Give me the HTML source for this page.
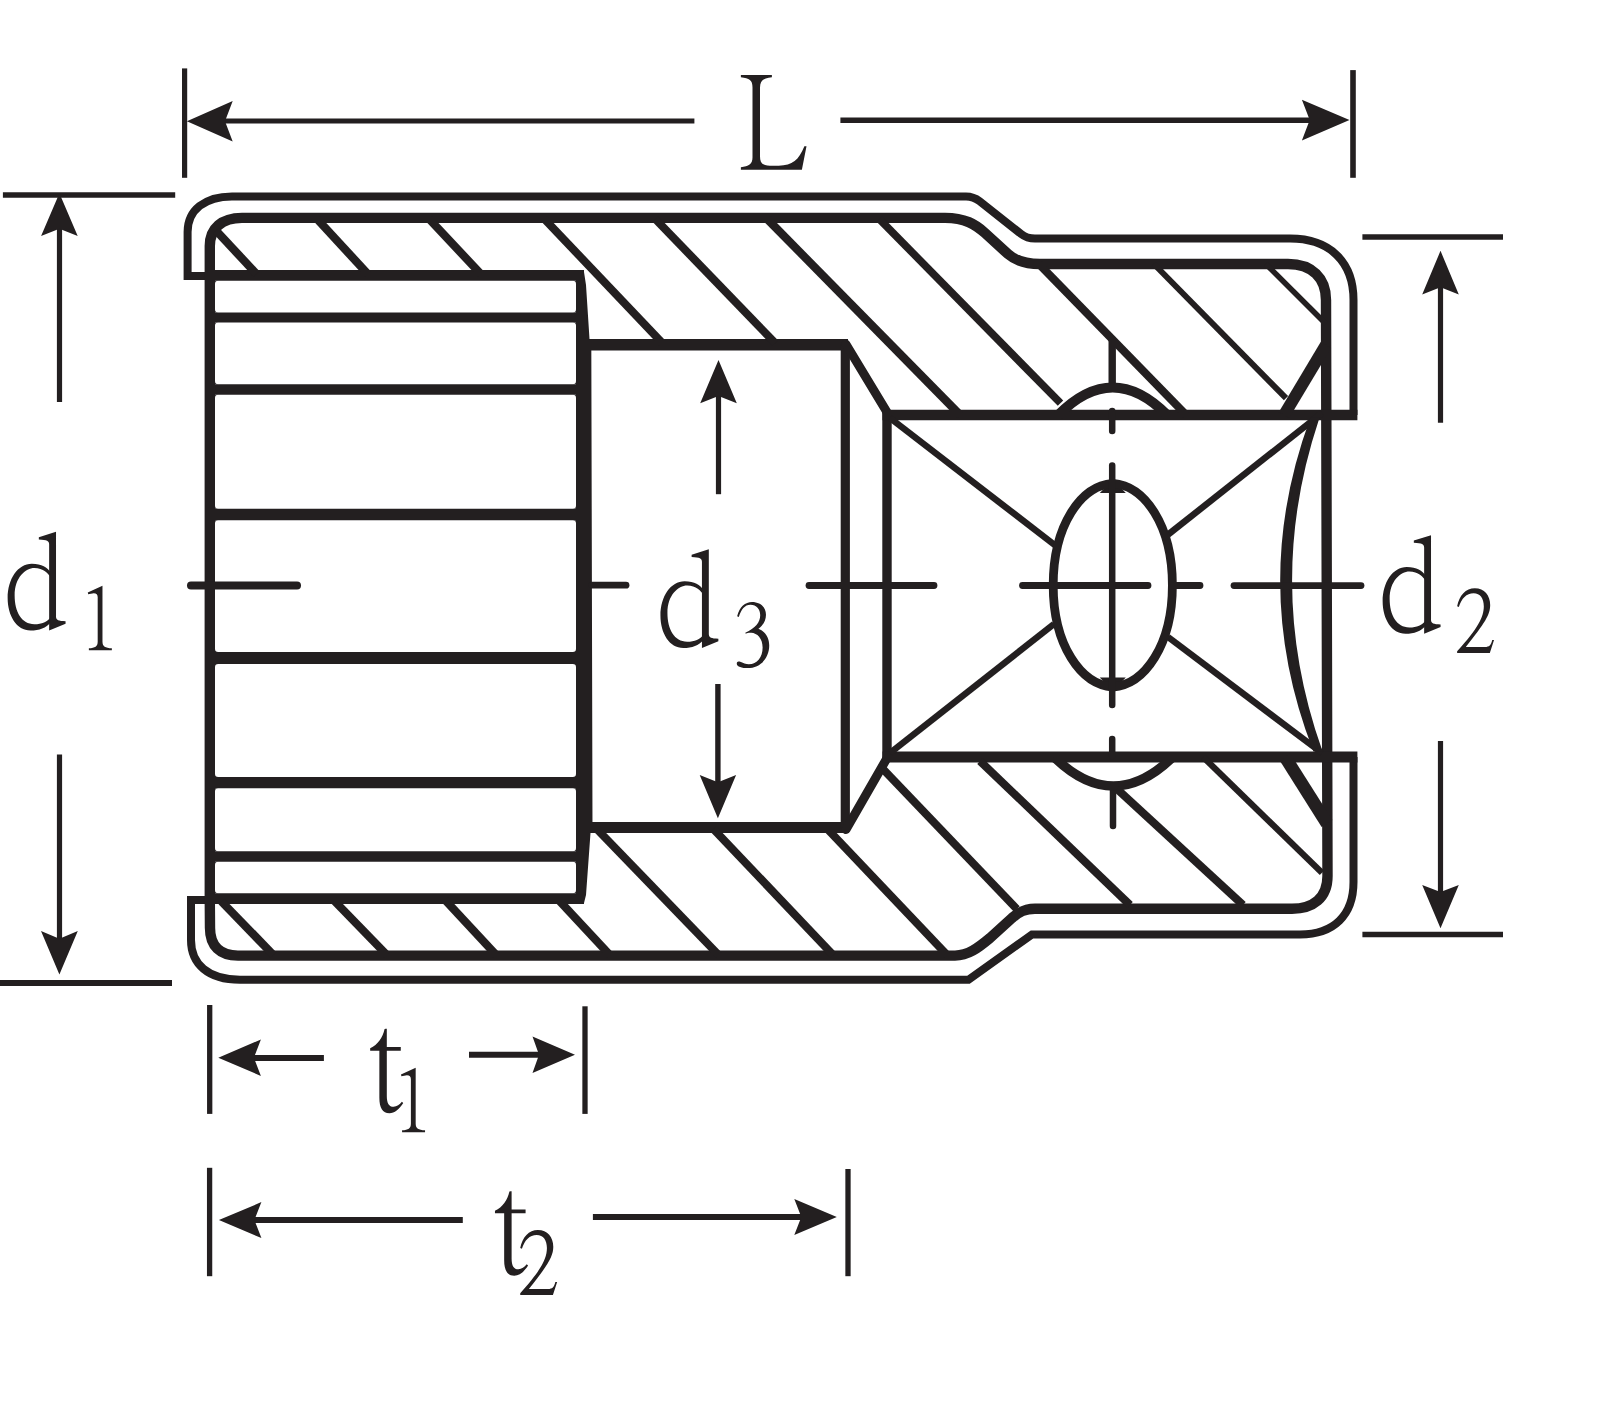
<!DOCTYPE html>
<html><head><meta charset="utf-8"><title>Socket dimensions</title>
<style>
html,body{margin:0;padding:0;background:#fff;}
body{width:1600px;height:1414px;overflow:hidden;font-family:"Liberation Serif",serif;}
svg{display:block;}
svg text{font-family:"Liberation Serif",serif;}
</style></head>
<body>
<svg width="1600" height="1414" viewBox="0 0 1600 1414" stroke="#231f20" fill="none">
<rect x="0" y="0" width="1600" height="1414" fill="#ffffff" stroke="none"/>
<line x1="184.6" y1="68.4" x2="184.6" y2="177.8" stroke-width="5.2" stroke-linecap="butt"/>
<line x1="1353" y1="70.1" x2="1353" y2="177.8" stroke-width="5.6" stroke-linecap="butt"/>
<line x1="224" y1="121" x2="694.4" y2="121" stroke-width="5.2" stroke-linecap="butt"/>
<line x1="840.4" y1="120.2" x2="1310" y2="120.2" stroke-width="5.4" stroke-linecap="butt"/>
<polygon stroke="none" fill="#231f20" points="186.9,121.2 232.7,100.9 225.0,121.2 232.7,141.5"/>
<polygon stroke="none" fill="#231f20" points="1349.5,120.1 1301.9,99.8 1309.7,120.1 1301.9,140.4"/>
<line x1="2.9" y1="194.9" x2="175.2" y2="194.9" stroke-width="5.5" stroke-linecap="butt"/>
<line x1="0" y1="983" x2="172" y2="983" stroke-width="5.8" stroke-linecap="butt"/>
<line x1="59.5" y1="228" x2="59.5" y2="402" stroke-width="5.2" stroke-linecap="butt"/>
<polygon stroke="none" fill="#231f20" points="59.4,193.2 41.099999999999994,236.0 59.4,228.8 77.7,236.0"/>
<line x1="59.5" y1="754.5" x2="59.5" y2="945" stroke-width="5.2" stroke-linecap="butt"/>
<polygon stroke="none" fill="#231f20" points="59.4,974.5 41.0,931.1 59.4,938.7 77.8,931.1"/>
<line x1="1362.4" y1="237" x2="1503" y2="237" stroke-width="5.7" stroke-linecap="butt"/>
<line x1="1362.4" y1="934.5" x2="1503" y2="934.5" stroke-width="5.7" stroke-linecap="butt"/>
<line x1="1440.5" y1="285" x2="1440.5" y2="422.8" stroke-width="5.2" stroke-linecap="butt"/>
<polygon stroke="none" fill="#231f20" points="1440.5,250.8 1422.2,294.40000000000003 1440.5,287.20000000000005 1458.8,294.40000000000003"/>
<line x1="1440.5" y1="741" x2="1440.5" y2="895" stroke-width="5.2" stroke-linecap="butt"/>
<polygon stroke="none" fill="#231f20" points="1440.5,928.3 1422.2,884.9 1440.5,892.1 1458.8,884.9"/>
<line x1="718.5" y1="394" x2="718.5" y2="494.2" stroke-width="5.2" stroke-linecap="butt"/>
<polygon stroke="none" fill="#231f20" points="718.5,360.1 700.2,403.20000000000005 718.5,396.00000000000006 736.8,403.20000000000005"/>
<line x1="717.9" y1="684" x2="717.9" y2="785" stroke-width="5.4" stroke-linecap="butt"/>
<polygon stroke="none" fill="#231f20" points="717.9,818.3 699.6999999999999,775.0999999999999 717.9,782.1999999999999 736.1,775.0999999999999"/>
<line x1="209.7" y1="1005" x2="209.7" y2="1113.9" stroke-width="5.3" stroke-linecap="butt"/>
<line x1="585" y1="1006.3" x2="585" y2="1113.9" stroke-width="5.3" stroke-linecap="butt"/>
<line x1="252" y1="1057.9" x2="323.9" y2="1057.9" stroke-width="6" stroke-linecap="butt"/>
<polygon stroke="none" fill="#231f20" points="218.3,1057.7 260.90000000000003,1039.5 253.90000000000003,1057.7 260.90000000000003,1075.9"/>
<line x1="469" y1="1054.8" x2="541" y2="1054.8" stroke-width="6" stroke-linecap="butt"/>
<polygon stroke="none" fill="#231f20" points="575,1054.8 532.5,1036.6 539.0,1054.8 532.5,1073.0"/>
<line x1="209.6" y1="1167.8" x2="209.6" y2="1276.2" stroke-width="5.3" stroke-linecap="butt"/>
<line x1="848" y1="1169" x2="848" y2="1276.2" stroke-width="5.3" stroke-linecap="butt"/>
<line x1="252" y1="1220.1" x2="462.8" y2="1220.1" stroke-width="6" stroke-linecap="butt"/>
<polygon stroke="none" fill="#231f20" points="218.9,1220.1 261.4,1202.1 254.39999999999998,1220.1 261.4,1238.1"/>
<line x1="592.9" y1="1217.1" x2="803" y2="1217.1" stroke-width="6" stroke-linecap="butt"/>
<polygon stroke="none" fill="#231f20" points="836.8,1217.1 794.3,1199.1 801.3,1217.1 794.3,1235.1"/>
<path d="M 487 200 L 735 200 L 735 218 C 670 225 642 240 640 300 L 640 850 C 640 905 660 925 720 925 L 790 925 C 900 925 950 880 995 770 L 1012 770 L 975 958 L 487 958 L 487 938 C 550 930 580 915 580 860 L 580 300 C 580 240 555 225 487 218 Z" transform="translate(680.00,50.00) scale(0.12500)" fill="#231f20" stroke="none" fill-rule="evenodd"/>
<path d="M 440 250 L 440 915 C 440 945 460 950 515 952 L 515 972 L 386 1025 L 386 350 C 386 322 370 312 305 310 L 305 292 Z" transform="translate(0.00,500.00) scale(0.12731)" fill="#231f20" stroke="none" fill-rule="evenodd"/>
<path d="M 250 500 C 330 500 370 530 400 570 L 400 960 C 360 1005 310 1025 240 1025 C 130 1025 60 910 60 770 C 60 620 140 500 250 500 Z M 270 535 C 200 535 115 610 115 750 C 115 880 170 975 270 975 C 330 975 370 955 400 920 L 400 610 C 380 580 340 535 270 535 Z" transform="translate(0.00,500.00) scale(0.12731)" fill="#231f20" stroke="none" fill-rule="evenodd"/>
<path d="M 440 250 L 440 915 C 440 945 460 950 515 952 L 515 972 L 386 1025 L 386 350 C 386 322 370 312 305 310 L 305 292 Z" transform="translate(652.80,517.50) scale(0.12731)" fill="#231f20" stroke="none" fill-rule="evenodd"/>
<path d="M 250 500 C 330 500 370 530 400 570 L 400 960 C 360 1005 310 1025 240 1025 C 130 1025 60 910 60 770 C 60 620 140 500 250 500 Z M 270 535 C 200 535 115 610 115 750 C 115 880 170 975 270 975 C 330 975 370 955 400 920 L 400 610 C 380 580 340 535 270 535 Z" transform="translate(652.80,517.50) scale(0.12731)" fill="#231f20" stroke="none" fill-rule="evenodd"/>
<path d="M 440 250 L 440 915 C 440 945 460 950 515 952 L 515 972 L 386 1025 L 386 350 C 386 322 370 312 305 310 L 305 292 Z" transform="translate(1375.00,503.30) scale(0.12731)" fill="#231f20" stroke="none" fill-rule="evenodd"/>
<path d="M 250 500 C 330 500 370 530 400 570 L 400 960 C 360 1005 310 1025 240 1025 C 130 1025 60 910 60 770 C 60 620 140 500 250 500 Z M 270 535 C 200 535 115 610 115 750 C 115 880 170 975 270 975 C 330 975 370 955 400 920 L 400 610 C 380 580 340 535 270 535 Z" transform="translate(1375.00,503.30) scale(0.12731)" fill="#231f20" stroke="none" fill-rule="evenodd"/>
<path d="M 660 575 L 660 1180 C 660 1235 690 1250 762 1255 L 762 1275 L 512 1275 L 512 1255 C 580 1250 608 1235 608 1180 L 608 700 C 608 668 595 655 565 655 L 505 665 L 500 648 Z" transform="translate(355.00,1015.00) scale(0.09193)" fill="#231f20" stroke="none" fill-rule="evenodd"/>
<path d="M 660 575 L 660 1180 C 660 1235 690 1250 762 1255 L 762 1275 L 512 1275 L 512 1255 C 580 1250 608 1235 608 1180 L 608 700 C 608 668 595 655 565 655 L 505 665 L 500 648 Z" transform="translate(41.80,533.00) scale(0.09193)" fill="#231f20" stroke="none" fill-rule="evenodd"/>
<path d="M 335 150 L 346 150 L 346 348 L 498 348 L 498 390 L 346 390 L 346 880 C 346 960 370 998 420 998 C 455 998 485 975 510 945 L 525 958 C 480 1030 430 1068 375 1068 C 300 1068 265 1010 265 900 L 265 390 L 165 390 L 165 362 C 250 320 300 250 322 152 Z" transform="translate(355.00,1015.00) scale(0.09193)" fill="#231f20" stroke="none" fill-rule="evenodd"/>
<path d="M 335 150 L 346 150 L 346 348 L 498 348 L 498 390 L 346 390 L 346 880 C 346 960 370 998 420 998 C 455 998 485 975 510 945 L 525 958 C 480 1030 430 1068 375 1068 C 300 1068 265 1010 265 900 L 265 390 L 165 390 L 165 362 C 250 320 300 250 322 152 Z" transform="translate(479.80,1177.50) scale(0.09193)" fill="#231f20" stroke="none" fill-rule="evenodd"/>
<path d="M 808 800 C 825 710 880 650 955 650 C 1035 650 1083 710 1083 790 C 1083 870 1040 940 880 1140 L 1040 1140 C 1075 1140 1090 1125 1100 1082 L 1115 1082 L 1080 1190 L 808 1190 L 808 1176 C 980 985 1030 890 1030 800 C 1030 735 1000 692 945 692 C 885 692 845 735 822 806 Z" transform="translate(1360.00,510.00) scale(0.12021)" fill="#231f20" stroke="none" fill-rule="evenodd"/>
<path d="M 808 800 C 825 710 880 650 955 650 C 1035 650 1083 710 1083 790 C 1083 870 1040 940 880 1140 L 1040 1140 C 1075 1140 1090 1125 1100 1082 L 1115 1082 L 1080 1190 L 808 1190 L 808 1176 C 980 985 1030 890 1030 800 C 1030 735 1000 692 945 692 C 885 692 845 735 822 806 Z" transform="translate(423.10,1151.85) scale(0.12021)" fill="#231f20" stroke="none" fill-rule="evenodd"/>
<path d="M 808 800 C 828 722 875 682 932 682 C 1000 682 1048 725 1048 788 C 1048 840 1020 880 985 905 C 1045 930 1075 980 1075 1045 C 1075 1150 1000 1232 895 1232 C 850 1232 805 1220 805 1195 C 805 1180 815 1173 828 1178 C 860 1192 880 1200 905 1200 C 975 1200 1020 1140 1020 1060 C 1020 985 975 940 925 938 C 905 937 892 940 880 946 L 876 938 C 960 900 1000 850 1000 792 C 1000 740 968 705 920 705 C 870 705 842 745 822 806 Z" transform="translate(640.00,520.00) scale(0.12021)" fill="#231f20" stroke="none" fill-rule="evenodd"/>
<path d="M 205 276 L 187.6 276 L 187.6 232 C 187.6 210 205 196.4 232 196.4 L 966 196.4 Q 973.5 196.4 979.5 201.1 L 1021 233.9 Q 1027 238.6 1035 238.6 L 1290 238.6 C 1330 238.6 1353.5 262 1353.5 300 L 1353.5 415" stroke-width="8" fill="none" stroke-linecap="butt" stroke-linejoin="miter"/>
<path d="M 207 900 L 191 900 L 191 940 C 191 964 208 979.7 240 979.7 L 968.5 979.7 L 1032 934.4 L 1300 934.4 C 1334 934.4 1353.5 915 1353.5 882 L 1353.5 757" stroke-width="8" fill="none" stroke-linecap="butt" stroke-linejoin="miter"/>
<path d="M 209.8 900 L 209.8 246 C 209.8 228 222 217.9 242 217.9 L 945 217.9 C 965 218 975 224 985 233 L 1008 254 C 1016 261 1025 264 1040 264 L 1288 264 C 1312 264 1326 278 1326 300 L 1327.5 876 C 1327.5 898 1313 908.7 1292 908.7 L 1035 908.7 C 1025 908.7 1019 912 1012 918 L 990 938 C 978 948 968 955.6 955 955.6 L 238 955.6 C 220 955.6 210 946 210 928 Z" stroke-width="10.4" fill="none" stroke-linecap="butt" stroke-linejoin="round"/>
<line x1="210" y1="275.4" x2="584" y2="275.4" stroke-width="10.6" stroke-linecap="butt"/>
<line x1="210" y1="317.4" x2="584" y2="317.4" stroke-width="10" stroke-linecap="butt"/>
<line x1="210" y1="389.5" x2="584" y2="389.5" stroke-width="10.6" stroke-linecap="butt"/>
<line x1="210" y1="514.4" x2="584" y2="514.4" stroke-width="11.5" stroke-linecap="butt"/>
<line x1="210" y1="658" x2="584" y2="658" stroke-width="12" stroke-linecap="butt"/>
<line x1="210" y1="782.6" x2="584" y2="782.6" stroke-width="11.3" stroke-linecap="butt"/>
<line x1="210" y1="856.5" x2="584" y2="856.5" stroke-width="10.4" stroke-linecap="butt"/>
<line x1="210" y1="898.6" x2="584" y2="898.6" stroke-width="10.6" stroke-linecap="butt"/>
<polygon stroke="none" fill="#231f20" points="576,272 584,272 586,285 589.5,339 591.3,339 592.5,833 590.5,833 586,895 584,903 576,903"/>
<path d="M 215.0 280.7 L 218.2 280.7 A 3.2 3.2 0 0 0 215.0 283.9 Z" fill="#231f20" stroke="none"/>
<path d="M 215.0 312.4 L 218.2 312.4 A 3.2 3.2 0 0 1 215.0 309.2 Z" fill="#231f20" stroke="none"/>
<path d="M 576.0 280.7 L 572.8 280.7 A 3.2 3.2 0 0 1 576.0 283.9 Z" fill="#231f20" stroke="none"/>
<path d="M 576.0 312.4 L 572.8 312.4 A 3.2 3.2 0 0 0 576.0 309.2 Z" fill="#231f20" stroke="none"/>
<path d="M 215.0 322.4 L 218.2 322.4 A 3.2 3.2 0 0 0 215.0 325.59999999999997 Z" fill="#231f20" stroke="none"/>
<path d="M 215.0 384.2 L 218.2 384.2 A 3.2 3.2 0 0 1 215.0 381.0 Z" fill="#231f20" stroke="none"/>
<path d="M 576.0 322.4 L 572.8 322.4 A 3.2 3.2 0 0 1 576.0 325.59999999999997 Z" fill="#231f20" stroke="none"/>
<path d="M 576.0 384.2 L 572.8 384.2 A 3.2 3.2 0 0 0 576.0 381.0 Z" fill="#231f20" stroke="none"/>
<path d="M 215.0 394.8 L 218.2 394.8 A 3.2 3.2 0 0 0 215.0 398.0 Z" fill="#231f20" stroke="none"/>
<path d="M 215.0 508.65 L 218.2 508.65 A 3.2 3.2 0 0 1 215.0 505.45 Z" fill="#231f20" stroke="none"/>
<path d="M 576.0 394.8 L 572.8 394.8 A 3.2 3.2 0 0 1 576.0 398.0 Z" fill="#231f20" stroke="none"/>
<path d="M 576.0 508.65 L 572.8 508.65 A 3.2 3.2 0 0 0 576.0 505.45 Z" fill="#231f20" stroke="none"/>
<path d="M 215.0 520.15 L 218.2 520.15 A 3.2 3.2 0 0 0 215.0 523.35 Z" fill="#231f20" stroke="none"/>
<path d="M 215.0 652.0 L 218.2 652.0 A 3.2 3.2 0 0 1 215.0 648.8 Z" fill="#231f20" stroke="none"/>
<path d="M 576.0 520.15 L 572.8 520.15 A 3.2 3.2 0 0 1 576.0 523.35 Z" fill="#231f20" stroke="none"/>
<path d="M 576.0 652.0 L 572.8 652.0 A 3.2 3.2 0 0 0 576.0 648.8 Z" fill="#231f20" stroke="none"/>
<path d="M 215.0 664.0 L 218.2 664.0 A 3.2 3.2 0 0 0 215.0 667.2 Z" fill="#231f20" stroke="none"/>
<path d="M 215.0 776.95 L 218.2 776.95 A 3.2 3.2 0 0 1 215.0 773.75 Z" fill="#231f20" stroke="none"/>
<path d="M 576.0 664.0 L 572.8 664.0 A 3.2 3.2 0 0 1 576.0 667.2 Z" fill="#231f20" stroke="none"/>
<path d="M 576.0 776.95 L 572.8 776.95 A 3.2 3.2 0 0 0 576.0 773.75 Z" fill="#231f20" stroke="none"/>
<path d="M 215.0 788.25 L 218.2 788.25 A 3.2 3.2 0 0 0 215.0 791.45 Z" fill="#231f20" stroke="none"/>
<path d="M 215.0 851.3 L 218.2 851.3 A 3.2 3.2 0 0 1 215.0 848.0999999999999 Z" fill="#231f20" stroke="none"/>
<path d="M 576.0 788.25 L 572.8 788.25 A 3.2 3.2 0 0 1 576.0 791.45 Z" fill="#231f20" stroke="none"/>
<path d="M 576.0 851.3 L 572.8 851.3 A 3.2 3.2 0 0 0 576.0 848.0999999999999 Z" fill="#231f20" stroke="none"/>
<path d="M 215.0 861.7 L 218.2 861.7 A 3.2 3.2 0 0 0 215.0 864.9000000000001 Z" fill="#231f20" stroke="none"/>
<path d="M 215.0 893.3000000000001 L 218.2 893.3000000000001 A 3.2 3.2 0 0 1 215.0 890.1 Z" fill="#231f20" stroke="none"/>
<path d="M 576.0 861.7 L 572.8 861.7 A 3.2 3.2 0 0 1 576.0 864.9000000000001 Z" fill="#231f20" stroke="none"/>
<path d="M 576.0 893.3000000000001 L 572.8 893.3000000000001 A 3.2 3.2 0 0 0 576.0 890.1 Z" fill="#231f20" stroke="none"/>
<line x1="590" y1="344.8" x2="848" y2="344.8" stroke-width="11.4" stroke-linecap="butt"/>
<line x1="590" y1="827.5" x2="848" y2="827.5" stroke-width="11" stroke-linecap="butt"/>
<line x1="845.3" y1="344" x2="845.3" y2="829" stroke-width="9.2" stroke-linecap="butt"/>
<line x1="845.8" y1="344" x2="887.8" y2="413.5" stroke-width="9" stroke-linecap="round"/>
<line x1="846" y1="829.5" x2="886.5" y2="759" stroke-width="9" stroke-linecap="round"/>
<line x1="887" y1="410" x2="887" y2="762" stroke-width="9.4" stroke-linecap="butt"/>
<line x1="882.5" y1="415" x2="1357.4" y2="415" stroke-width="10.4" stroke-linecap="butt"/>
<line x1="882.5" y1="757" x2="1357.4" y2="757" stroke-width="11" stroke-linecap="butt"/>
<line x1="890" y1="418" x2="1056" y2="546" stroke-width="6.5" stroke-linecap="butt"/>
<line x1="890" y1="753" x2="1054" y2="624" stroke-width="6.5" stroke-linecap="butt"/>
<line x1="1168" y1="534.6" x2="1322" y2="413" stroke-width="6.5" stroke-linecap="butt"/>
<line x1="1168" y1="637" x2="1322" y2="753" stroke-width="6.5" stroke-linecap="butt"/>
<polygon stroke="none" fill="#231f20" points="1099.8,492.9 1112.8,479.4 1125.8,492.9"/>
<polygon stroke="none" fill="#231f20" points="1099.8,677.5 1112.8,691.0 1125.8,677.5"/>
<path d="M 1112.8 483.4 C 1144.8 485.9 1172.3999999999999 525.2 1172.3999999999999 585.2 C 1172.3999999999999 645.2 1144.8 684.5 1112.8 687.0 C 1080.8 684.5 1053.2 645.2 1053.2 585.2 C 1053.2 525.2 1080.8 485.9 1112.8 483.4 Z" stroke-width="8.8" fill="none" stroke-linejoin="miter" stroke-miterlimit="10"/>
<path d="M 1311.5 419 Q 1250.4 585 1314.5 750 L 1320.5 750 Q 1262.2 585 1317.5 419 Z" fill="#231f20" stroke-width="3"/>
<line x1="1284" y1="415" x2="1326" y2="344.8" stroke-width="12" stroke-linecap="butt"/>
<line x1="1285" y1="757" x2="1327" y2="823.5" stroke-width="12.7" stroke-linecap="butt"/>
<line x1="191" y1="585.4" x2="297" y2="585.4" stroke-width="8" stroke-linecap="round"/>
<line x1="592" y1="585.2" x2="626" y2="585.2" stroke-width="6.8" stroke-linecap="round"/>
<line x1="809" y1="585.5" x2="934" y2="585.5" stroke-width="6.8" stroke-linecap="round"/>
<line x1="1022.5" y1="585.5" x2="1148" y2="585.5" stroke-width="6.8" stroke-linecap="round"/>
<line x1="1174" y1="585.5" x2="1200" y2="585.5" stroke-width="6.8" stroke-linecap="round"/>
<line x1="1234" y1="585.6" x2="1361" y2="585.6" stroke-width="6.8" stroke-linecap="round"/>
<line x1="1112.2" y1="340" x2="1112.2" y2="385" stroke-width="7.4" stroke-linecap="butt"/>
<line x1="1112.2" y1="411" x2="1112.2" y2="431" stroke-width="6.5" stroke-linecap="round"/>
<line x1="1112.2" y1="465.5" x2="1112.2" y2="705" stroke-width="6.5" stroke-linecap="round"/>
<line x1="1112.2" y1="739" x2="1112.2" y2="756" stroke-width="6.5" stroke-linecap="round"/>
<line x1="1113.0" y1="787" x2="1113.0" y2="826" stroke-width="6.5" stroke-linecap="round"/>
<path d="M 1058.2 415 Q 1112.7 359.8 1167.2 415" stroke-width="10" fill="none" stroke-linecap="butt" stroke-linejoin="round"/>
<path d="M 1054 757 Q 1113.4 815 1172.8 757" stroke-width="9.5" fill="none" stroke-linecap="butt" stroke-linejoin="round"/>
<line x1="216" y1="230.5" x2="256.5" y2="274" stroke-width="8.2" stroke-linecap="butt"/>
<line x1="317.1" y1="219" x2="367.8" y2="274" stroke-width="8.2" stroke-linecap="butt"/>
<line x1="429.2" y1="219" x2="480.8" y2="274" stroke-width="8.2" stroke-linecap="butt"/>
<line x1="221.5" y1="901.5" x2="273.4" y2="955" stroke-width="8.2" stroke-linecap="butt"/>
<line x1="333.5" y1="900" x2="386.9" y2="955" stroke-width="8.2" stroke-linecap="butt"/>
<line x1="445.1" y1="900" x2="496.2" y2="955" stroke-width="8.2" stroke-linecap="butt"/>
<line x1="558.6" y1="900" x2="609.8" y2="955" stroke-width="8.2" stroke-linecap="butt"/>
<line x1="544.4" y1="219" x2="662.3" y2="343" stroke-width="8.0" stroke-linecap="butt"/>
<line x1="655.3" y1="219" x2="775.1" y2="343" stroke-width="8.0" stroke-linecap="butt"/>
<line x1="767.2" y1="219" x2="960.1" y2="415" stroke-width="8.2" stroke-linecap="butt"/>
<line x1="879.3" y1="219" x2="1060.5" y2="403.2" stroke-width="7.6" stroke-linecap="butt"/>
<line x1="1038.9" y1="264" x2="1186.2" y2="415" stroke-width="8.2" stroke-linecap="butt"/>
<line x1="1153.9" y1="264" x2="1286" y2="398.2" stroke-width="6.0" stroke-linecap="butt"/>
<line x1="1265.9" y1="264" x2="1326" y2="324" stroke-width="5.6" stroke-linecap="butt"/>
<line x1="596.8" y1="829" x2="718.6" y2="955" stroke-width="8.0" stroke-linecap="butt"/>
<line x1="713.4" y1="829" x2="833.1" y2="955" stroke-width="8.0" stroke-linecap="butt"/>
<line x1="827.4" y1="829" x2="947.1" y2="955" stroke-width="8.0" stroke-linecap="butt"/>
<line x1="881" y1="767" x2="1016.8" y2="909" stroke-width="8.0" stroke-linecap="butt"/>
<line x1="980" y1="761" x2="1130" y2="905" stroke-width="8.0" stroke-linecap="butt"/>
<line x1="1117" y1="789" x2="1243" y2="905" stroke-width="8.0" stroke-linecap="butt"/>
<line x1="1203.1" y1="757" x2="1322" y2="872.7" stroke-width="6.3" stroke-linecap="butt"/>
</svg>
</body></html>
